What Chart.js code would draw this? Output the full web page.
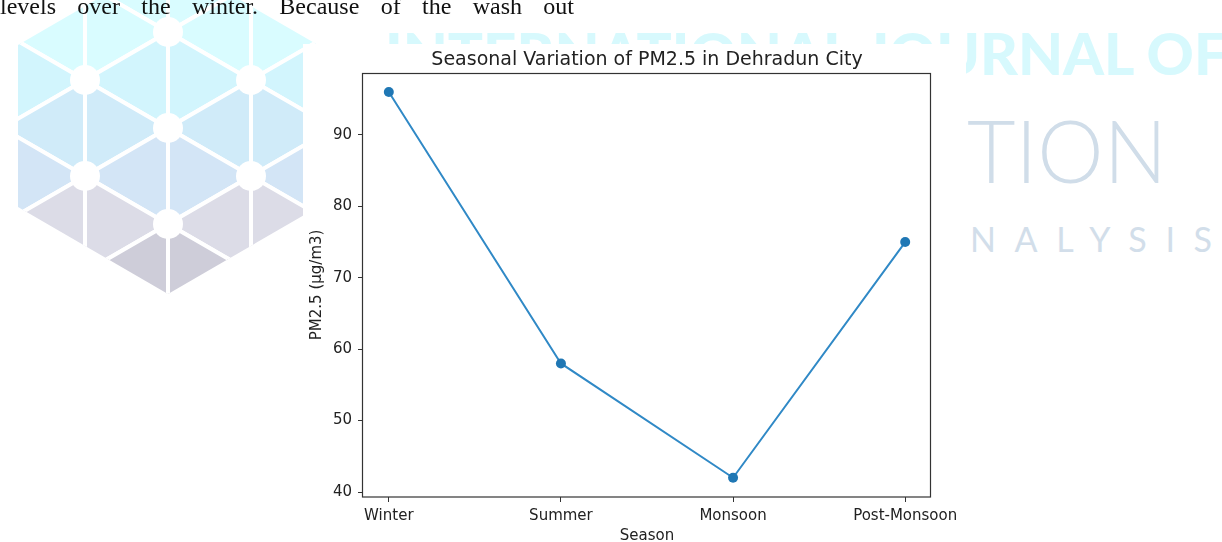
<!DOCTYPE html>
<html>
<head>
<meta charset="utf-8">
<script src="https://cdn.jsdelivr.net/npm/chart.js@4/dist/chart.umd.min.js"></script>
<style>
  html, body { margin:0; padding:0; background:#fff; }
  body { width:1222px; height:542px; position:relative; overflow:hidden; }
  #bg { position:absolute; left:0; top:0; }
  #fig { position:absolute; left:303px; top:44px; width:663px; height:498px; background:#fff; }
  #c { position:absolute; left:0; top:0; }
  #para { position:absolute; left:0; top:-6px; width:574px; font-family:'Liberation Serif','Times New Roman',serif;
          font-size:24px; line-height:24px; color:#111; text-align:justify; text-align-last:justify; white-space:nowrap; }
</style>
</head>
<body>
<svg id="bg" width="1222" height="542" xmlns="http://www.w3.org/2000/svg">
  <defs><clipPath id="hexclip"><polygon id="hexpoly" points=""/></clipPath></defs>
  <g id="logo" clip-path="url(#hexclip)"></g>
  <text x="385" y="75" font-family="Lato, 'Open Sans', sans-serif" font-weight="900" font-size="58" fill="#d7f9fd" textLength="842" lengthAdjust="spacingAndGlyphs">INTERNATIONAL JOURNAL OF</text>
  <text x="967" y="183" font-family="Lato, 'Open Sans', sans-serif" font-weight="300" font-size="86" fill="#d0dde9" textLength="200" lengthAdjust="spacingAndGlyphs">TION</text>
  <text x="970" y="252" font-family="Lato, 'Open Sans', sans-serif" font-size="34" fill="#d2deea" textLength="242" lengthAdjust="spacing">NALYSIS</text>
</svg>
<div id="fig"></div>
<canvas id="c" width="1222" height="542"></canvas>
<div id="para">levels over the winter. Because of the wash out</div>
<script>
// ---- data ----
const seasons = ['Winter', 'Summer', 'Monsoon', 'Post-Monsoon'];
const pm25 = [96, 58, 42, 75];
const yTicks = [40, 50, 60, 70, 80, 90];
const xTicks = [0, 1, 2, 3];

// ---- background watermark logo (decoration) ----
(function () {
  const ns = 'http://www.w3.org/2000/svg';
  const C = [168, 128], e1 = [83, 48], e2 = [0, 96];
  const P = (i, j) => [C[0] + i * e1[0] + j * e2[0], C[1] + i * e1[1] + j * e2[1]];
  const g = document.getElementById('logo');
  const outline = [[168, -42], [318, 45], [318, 207], [168, 294], [18, 207], [18, 45]];
  document.getElementById('hexpoly').setAttribute('points', outline.map(p => p.join(',')).join(' '));
  function col(cy) {
    if (cy < 75) return '#d9fcff';
    if (cy < 125) return '#d2f5fd';
    if (cy < 170) return '#d0ebf9';
    if (cy < 205) return '#d3e5f6';
    if (cy < 255) return '#dcdce7';
    return '#cecdd9';
  }
  const nodes = [];
  for (let i = -3; i <= 3; i++) {
    for (let j = -4; j <= 4; j++) {
      const tris = [[P(i, j), P(i + 1, j), P(i, j + 1)], [P(i + 1, j), P(i + 1, j + 1), P(i, j + 1)]];
      tris.forEach(t => {
        const cy = (t[0][1] + t[1][1] + t[2][1]) / 3;
        const el = document.createElementNS(ns, 'polygon');
        el.setAttribute('points', t.map(p => p.join(',')).join(' '));
        el.setAttribute('fill', col(cy));
        el.setAttribute('stroke', '#fff');
        el.setAttribute('stroke-width', '4');
        el.setAttribute('stroke-linejoin', 'round');
        g.appendChild(el);
      });
      nodes.push(P(i, j));
    }
  }
  nodes.forEach(p => {
    const c = document.createElementNS(ns, 'circle');
    c.setAttribute('cx', p[0]); c.setAttribute('cy', p[1]); c.setAttribute('r', 15);
    c.setAttribute('fill', '#fff');
    g.appendChild(c);
  });
})();

// ---- chart ----
const textColor = '#222';
const baseFont = { family: "'DejaVu Sans', sans-serif", size: 15 };

const framePlugin = {
  id: 'frame',
  afterDraw(chart) {
    const { ctx, chartArea: a } = chart;
    ctx.save();
    ctx.strokeStyle = '#333';
    ctx.lineWidth = 1.2;
    ctx.strokeRect(Math.round(a.left) - 0.5, Math.round(a.top) + 0.5, Math.round(a.right - a.left), Math.round(a.bottom - a.top) - 0.5);
    ctx.restore();
  }
};

new Chart(document.getElementById('c'), {
  type: 'line',
  data: {
    datasets: [{
      data: seasons.map((s, i) => ({ x: i, y: pm25[i] })),
      borderColor: '#3089c6',
      borderWidth: 2,
      pointRadius: 5,
      pointBackgroundColor: '#1f77b4',
      pointBorderColor: '#1f77b4',
      pointBorderWidth: 0,
      tension: 0,
      fill: false
    }]
  },
  options: {
    responsive: false,
    animation: false,
    events: [],
    layout: { padding: { left: 303, right: 291, top: 40, bottom: 0 } },
    plugins: {
      legend: { display: false },
      tooltip: { enabled: false },
      title: {
        display: true,
        fullSize: false,
        text: 'Seasonal Variation of PM2.5 in Dehradun City',
        color: textColor,
        font: { family: "'DejaVu Sans', sans-serif", size: 19, weight: 'normal' },
        padding: { top: 9, bottom: 1 }
      }
    },
    scales: {
      x: {
        type: 'linear',
        min: -0.15,
        max: 3.15,
        afterBuildTicks: s => { s.ticks = xTicks.map(v => ({ value: v })); },
        afterFit: s => { s.height = 45; },
        ticks: {
          callback: v => seasons[v],
          autoSkip: false, maxRotation: 0, padding: 5,
          color: textColor, font: baseFont
        },
        grid: { display: true, drawOnChartArea: false, drawTicks: true, tickLength: 5, color: '#333' },
        border: { display: false },
        title: { display: true, text: 'Season', color: textColor, font: baseFont, padding: { top: 0, bottom: -3 } }
      },
      y: {
        type: 'linear',
        min: 39.3,
        max: 98.7,
        afterBuildTicks: s => { s.ticks = yTicks.map(v => ({ value: v })); },
        afterFit: s => { s.width = 60; },
        ticks: { padding: 6, color: textColor, font: baseFont },
        grid: { display: true, drawOnChartArea: false, drawTicks: true, tickLength: 5, color: '#333' },
        border: { display: false },
        title: { display: true, text: 'PM2.5 (µg/m3)', color: textColor, font: baseFont, padding: { top: 5, bottom: 0 } }
      }
    }
  },
  plugins: [framePlugin]
});
</script>
</body>
</html>
